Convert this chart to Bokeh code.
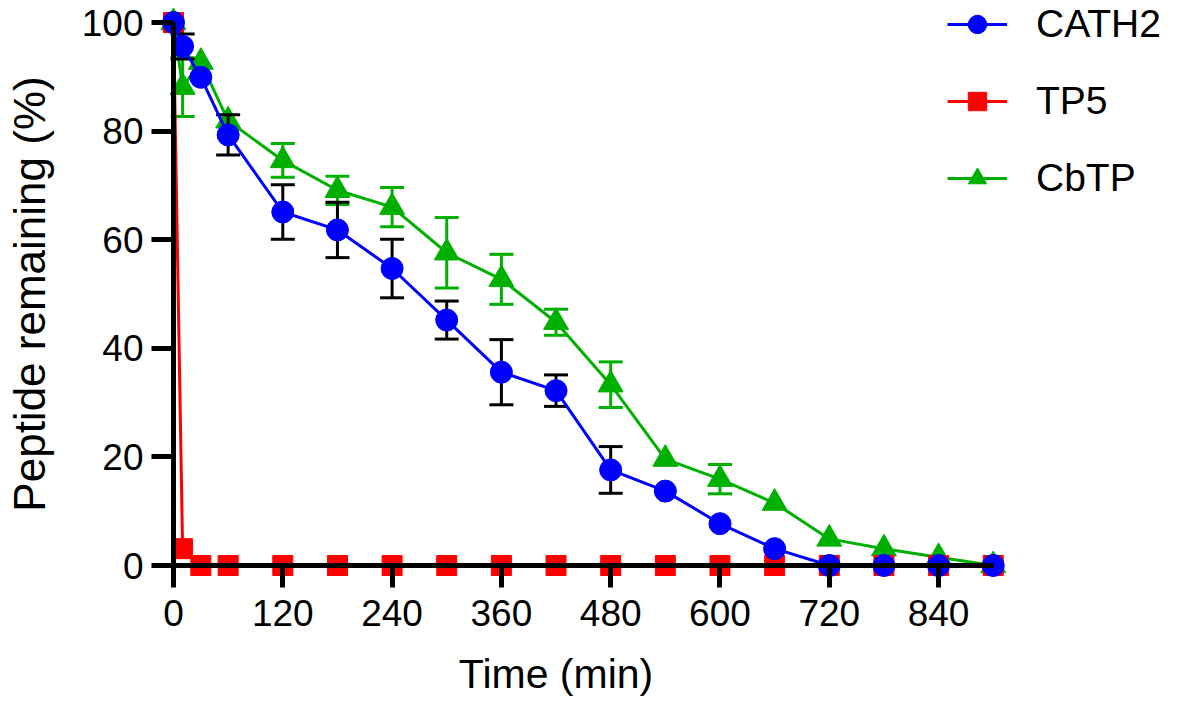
from bokeh.plotting import figure
from bokeh.models import Range1d, FixedTicker, Legend, LegendItem, Label
from bokeh.embed import file_html
from bokeh.resources import INLINE

# ---- data ----
time_min = [0, 10, 30, 60, 120, 180, 240, 300, 360, 420, 480, 540, 600, 660, 720, 780, 840, 900]
cath2 = [100, 95.6, 89.9, 79.3, 65.1, 61.8, 54.7, 45.2, 35.6, 32.2, 17.6, 13.7, 7.7, 3.1, 0, 0, 0, 0]
cath2_err = [0, 2.3, 0, 3.7, 5.0, 5.1, 5.4, 3.5, 6.0, 2.9, 4.3, 0, 0, 0, 0, 0, 0, 0]
tp5 = [100, 3.1, 0, 0, 0, 0, 0, 0, 0, 0, 0, 0, 0, 0, 0, 0, 0, 0]
tp5_err = [0] * 18
cbtp = [100, 88.1, 92.7, 81.9, 74.6, 69.1, 66.0, 57.6, 52.7, 44.8, 33.3, 19.6, 15.9, 11.5, 4.9, 3.1, 1.5, 0]
cbtp_err = [0, 5.4, 0, 0, 3.1, 2.6, 3.6, 6.5, 4.6, 2.4, 4.2, 0, 2.7, 0, 0, 0, 0, 0]
x_ticks = [0, 120, 240, 360, 480, 600, 720, 840]
y_ticks = [0, 20, 40, 60, 80, 100]
series_names = ["CATH2", "TP5", "CbTP"]

BLUE = "#0000FF"
RED = "#FF0000"
GREEN = "#00B000"
FONT = "Liberation Sans"

W, H = 1165, 698
X0_PX, XSCALE = 173.0, 0.9108     # pixel of t=0, px per minute
Y0_PX, YSCALE = 565.0, 5.43       # pixel of 0 %, px per %

p = figure(width=W, height=H, output_backend="svg", toolbar_location=None,
           x_range=Range1d(-X0_PX / XSCALE, (W - X0_PX) / XSCALE),
           y_range=Range1d(-(H - Y0_PX) / YSCALE, Y0_PX / YSCALE),
           min_border_left=0, min_border_right=0, min_border_top=0, min_border_bottom=0)
p.outline_line_color = None
p.grid.visible = False
p.background_fill_color = "white"

for ax in (p.xaxis[0], p.yaxis[0]):
    ax.fixed_location = 0
    ax.axis_line_width = 5
    ax.axis_line_color = "black"
    ax.major_tick_line_width = 5
    ax.major_tick_line_color = "black"
    ax.major_tick_out = 22
    ax.major_tick_in = 0
    ax.minor_tick_line_color = None
    ax.major_label_text_font = FONT
    ax.major_label_text_font_size = "37px"
    ax.major_label_text_color = "black"
p.xaxis[0].ticker = FixedTicker(ticks=x_ticks)
p.yaxis[0].ticker = FixedTicker(ticks=y_ticks)
p.xaxis[0].bounds = (0, 900)
p.yaxis[0].bounds = (0, 100)
p.xaxis[0].major_label_standoff = 12
p.yaxis[0].major_label_standoff = 8
p.yaxis[0].axis_label = "Peptide remaining (%)"
p.yaxis[0].axis_label_text_font = FONT
p.yaxis[0].axis_label_text_font_size = "44px"
p.yaxis[0].axis_label_text_font_style = "normal"
p.yaxis[0].axis_label_text_color = "black"
p.yaxis[0].axis_label_standoff = 25


def error_bars(vals, errs, color):
    xs = [t for t, e in zip(time_min, errs) if e > 0]
    lo = [v - e for v, e in zip(vals, errs) if e > 0]
    hi = [v + e for v, e in zip(vals, errs) if e > 0]
    p.segment(x0=xs, y0=lo, x1=xs, y1=hi, line_color=color, line_width=3)
    p.scatter(xs, lo, marker="dash", size=24, line_color=color, line_width=3)
    p.scatter(xs, hi, marker="dash", size=24, line_color=color, line_width=3)


# CbTP (bottom)
error_bars(cbtp, cbtp_err, GREEN)
g_line = p.line(time_min, cbtp, line_color=GREEN, line_width=3)
g_mark = p.scatter(time_min, cbtp, marker="triangle", size=25, fill_color=GREEN, line_color=GREEN)

# TP5
r_line = p.line(time_min, tp5, line_color=RED, line_width=3)
r_mark = p.scatter(time_min, tp5, marker="square", size=20, fill_color=RED, line_color=RED)

# CATH2 (top)
error_bars(cath2, cath2_err, "black")
b_line = p.line(time_min, cath2, line_color=BLUE, line_width=3)
b_mark = p.scatter(time_min, cath2, marker="circle", size=22, fill_color=BLUE, line_color=BLUE)

legend = Legend(items=[
    LegendItem(label=series_names[0], renderers=[b_line, b_mark]),
    LegendItem(label=series_names[1], renderers=[r_line, r_mark]),
    LegendItem(label=series_names[2], renderers=[g_line, g_mark]),
], location=(947, 497))
legend.label_text_font = FONT
legend.label_text_font_size = "39px"
legend.label_text_color = "black"
legend.glyph_width = 60
legend.glyph_height = 46
legend.label_height = 46
legend.spacing = 31
legend.label_standoff = 29
legend.padding = 0
legend.margin = 0
legend.border_line_color = None
legend.background_fill_alpha = 0
p.add_layout(legend)

xlabel = Label(x=420, y=-20.0, x_units="data", y_units="data", text="Time (min)",
               text_font=FONT, text_font_size="41px", text_color="black",
               text_align="center", text_baseline="alphabetic")
p.add_layout(xlabel)

open("out.html", "w").write(file_html(p, INLINE))
